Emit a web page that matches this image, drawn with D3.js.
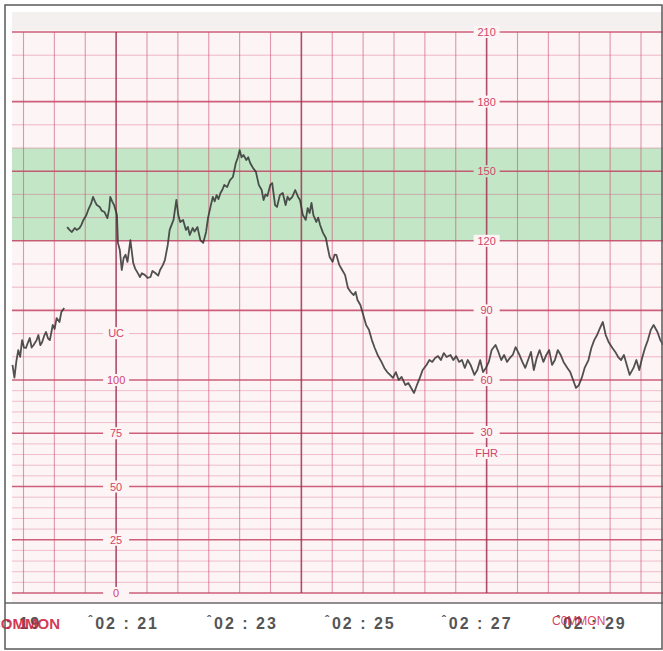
<!DOCTYPE html>
<html>
<head>
<meta charset="utf-8">
<script src="https://cdn.jsdelivr.net/npm/d3@7"></script>
<style>
  body { margin: 0; background: #fff; }
  text { font-family: "Liberation Sans", Arial, sans-serif; }
</style>
</head>
<body>
<div id="chart"></div>
<script>
// FHR trace: seconds after 02:19:00, beats per minute (null = gap in trace)
const fhrTime = [
  36, 38, 40, 42, 44, 46, 48, 50, 52, 54, 56, 58, 61, 63, 65, 67, 69, 71, 73, 75, 78, 80, 82, 85, 87, 90,
  91.5,
  93, 96, 98, 101, 103, 106, 108, 110, 113, 115, 118, 120, 122, 124, 127, 129, 132, 135, 137, 138, 140, 142, 145,
  146, 148, 150, 152, 154, 156, 159, 162, 164, 166, 169, 171, 174, 177, 180, 182, 185, 188, 190, 193, 195, 198,
  200, 204, 207, 209, 211, 214, 217, 219, 221, 224, 226, 229, 232, 235, 238, 240, 243, 245, 247, 249, 251, 253,
  255, 257, 260, 263, 266, 269, 271, 273, 275, 277, 280, 282, 284, 287, 290, 293, 296, 298, 300, 302, 305, 307,
  310, 312, 315, 318, 321, 323, 325, 328, 331, 334, 336, 339, 342, 344, 346, 348, 350, 353, 355, 357, 360, 363,
  365, 367, 370, 372, 374, 377, 380, 383, 386, 389, 392, 394, 396, 399, 402, 405, 408, 411, 414, 417, 421, 424,
  427, 430, 433, 436, 439, 442, 446, 449, 452, 455, 458, 461, 464, 468, 471, 474, 477, 480, 483, 486, 489, 493,
  496, 499, 502, 505, 508, 511, 514, 518, 521, 524, 527, 530, 533, 536, 540, 543, 546, 549, 552, 555, 558, 561,
  565, 568, 571, 574, 577, 580, 583, 586, 590, 593, 596, 599, 602, 605, 608, 611, 615, 618, 621, 624, 627, 630,
  633, 637, 640, 643, 646, 649, 652, 655, 658, 662, 665, 668, 671, 674, 677, 680, 684, 687, 690, 693, 696, 699,
  702, 705, 709, 712, 715
];
const fhrBpm = [
  66.5, 61, 68, 72.9, 70, 77.2, 74, 73.8, 76, 78.1, 74, 75.1, 77, 79.4, 75, 76.4, 79, 80.7, 78, 77.2, 83.7, 82, 86.7, 85, 89.3, 91,
  null,
  125.9, 124.5, 123.8, 125.5, 124.7, 125.5, 127, 129, 131, 133.3, 136, 138.9, 137, 135.4, 134.6, 133, 132.4, 129.8, 134, 138.9, 137, 135.4, 131.1,
  119.1, 116, 107.4, 112.6, 114, 110.9, 120.3, 110.4, 108, 106.6, 104.4, 106, 105.3, 104, 104.4, 107, 106.1, 105, 107.4, 109.6, 111.7, 118.2,
  124.7, 129, 137.6, 131.1, 128.1, 129, 124.7, 126, 122.5, 125.5, 124, 125.9, 120.3, 119.1, 123.8, 129.8, 135.4, 138.9, 137, 139.7, 138, 140.6,
  142, 144.1, 143.2, 146.2, 147.5, 153.5, 155.7, 159.1, 156, 157, 154.8, 156, 153.5, 151.4, 149.7, 144.1, 141.9, 137.6, 140, 139.3, 144.1, 144.9,
  135.4, 134.6, 139.7, 140.6, 135.4, 139, 137.6, 138.9, 141.9, 138.9, 137.6, 131.1, 129, 134.1, 132, 136.3, 131.1, 128.1, 130, 126.8, 123.4, 121.2,
  116.9, 113, 110.9, 114, 113.9, 109.6, 107.4, 105.3, 99.7, 97.9, 96.6, 98, 94.5, 92.3, 88, 83.7, 81.6, 77.2, 73.8, 70.8, 67.8, 65.2,
  63.4, 62.2, 60.9, 63.4, 60, 61.3, 57.1, 58.3, 55.4, 52.5, 57.1, 60.9, 64.3, 66.5, 68.6, 67.8, 69.5, 70.3, 68.6, 71.6, 69.9, 70.8,
  68.6, 70.3, 67.8, 68.6, 65.2, 68.6, 66.5, 62.2, 64.3, 68.6, 63.4, 65.2, 67.8, 72.9, 75.1, 72.1, 68.6, 70.8, 67.8, 69.5, 70.8, 74.2,
  70.8, 67.8, 65.2, 68.6, 72.1, 64.3, 69.5, 72.9, 67.8, 70.8, 72.9, 66.5, 68.6, 72.9, 70.8, 67.8, 65.2, 63.4, 60, 55.4, 57.1, 60.9,
  65.2, 68.6, 73.8, 77.2, 79.4, 82.4, 85, 79.4, 76.4, 73.8, 72.1, 69.9, 68.6, 70.8, 66.5, 62.2, 65.2, 68.6, 64.3, 69.5, 73.8, 77.2,
  81.6, 83.7, 80.7, 77.2, 75.1
];

// printed time marks along the bottom edge
const timeLabels = ["02:19", "02:21", "02:23", "02:25", "02:27", "02:29"];
const timeMarks = [-8, 115, 239, 362, 484, 603];

// scale labels printed on the paper
const fhrTicks = [210, 180, 150, 120, 90, 60, 30];
const ucTicks = [100, 75, 50, 25, 0];
const normalBand = [120, 160];

const W = 663, H = 651;
const paperLeft = 12, paperTop = 12, paperBottom = 603;

const svg = d3.select("#chart")
  .append("svg")
  .attr("width", W)
  .attr("height", H);

// scales
const x = d3.scaleLinear().domain([0, 720]).range([-22, 668]);
const grid = d3.scaleLinear().domain([0, 20]).range([23.5, 641]);
const fhr = d3.scaleLinear().domain([18, 30, 60, 210]).range([453, 432, 380, 32]);
const uc = d3.scaleLinear().domain([0, 100]).range([593, 380]);

// frame + paper
svg.append("rect").attr("width", W).attr("height", H).attr("fill", "#fff");
svg.append("rect")
  .attr("x", paperLeft).attr("y", paperTop)
  .attr("width", W - paperLeft).attr("height", paperBottom - paperTop)
  .attr("fill", "#fdf4f5");
svg.append("rect")
  .attr("x", paperLeft).attr("y", paperTop)
  .attr("width", W - paperLeft).attr("height", fhr(210) - paperTop - 2)
  .attr("fill", "#f5f0f0");

// green normal range
svg.append("rect")
  .attr("x", paperLeft)
  .attr("y", fhr(normalBand[1]))
  .attr("width", W - paperLeft)
  .attr("height", fhr(normalBand[0]) - fhr(normalBand[1]))
  .attr("fill", "#c3e6c7");

const gridG = svg.append("g");

// horizontal lines, FHR part (10 bpm)
d3.range(60, 211, 10).forEach(v => {
  const major = v % 30 === 0;
  gridG.append("line")
    .attr("x1", paperLeft).attr("x2", W)
    .attr("y1", fhr(v)).attr("y2", fhr(v))
    .attr("stroke", major ? "#c0395c" : "#d9587c")
    .attr("stroke-opacity", major ? 0.8 : 0.4)
    .attr("stroke-width", major ? 1.6 : 1);
});

// horizontal lines, UC part (5 units)
d3.range(0, 100, 5).forEach(v => {
  const major = v % 25 === 0;
  gridG.append("line")
    .attr("x1", paperLeft).attr("x2", W)
    .attr("y1", uc(v)).attr("y2", uc(v))
    .attr("stroke", major ? "#c0395c" : "#d9587c")
    .attr("stroke-opacity", major ? 0.8 : 0.35)
    .attr("stroke-width", major ? 1.6 : 1);
});

// vertical lines
d3.range(0, 21).forEach(k => {
  const major = k % 6 === 3;
  gridG.append("line")
    .attr("x1", grid(k)).attr("x2", grid(k))
    .attr("y1", fhr(210)).attr("y2", uc(0))
    .attr("stroke", major ? "#a03050" : "#c84a6c")
    .attr("stroke-opacity", major ? 0.85 : 0.55)
    .attr("stroke-width", major ? 1.6 : 1.1);
});

// scale labels
const labelG = svg.append("g")
  .attr("fill", "#d2456a")
  .attr("font-size", 11)
  .attr("text-anchor", "middle");

const fhrAxisX = grid(15), ucAxisX = grid(3);

function label(cx, cy, txt, bg) {
  labelG.append("rect")
    .attr("x", cx - 13).attr("y", cy - 6)
    .attr("width", 26).attr("height", 12)
    .attr("fill", bg);
  labelG.append("text")
    .attr("x", cx).attr("y", cy + 4)
    .text(txt);
}

fhrTicks.forEach(v => {
  const inBand = v > normalBand[0] && v < normalBand[1];
  label(fhrAxisX, fhr(v), v, inBand ? "#c3e6c7" : "#fdf4f5");
});
label(fhrAxisX, fhr(18), "FHR", "#fdf4f5");

ucTicks.forEach(v => label(ucAxisX, uc(v), v, "#fdf4f5"));
label(ucAxisX, uc(122), "UC", "#fdf4f5");

// FHR trace
const points = fhrTime.map((t, i) => ({ t: t, v: fhrBpm[i] }));

const line = d3.line()
  .defined(d => d.v !== null)
  .x(d => x(d.t))
  .y(d => fhr(d.v));

svg.append("path")
  .datum(points)
  .attr("fill", "none")
  .attr("stroke", "#333")
  .attr("stroke-width", 1.8)
  .attr("stroke-opacity", 0.85)
  .attr("stroke-linejoin", "round")
  .attr("d", line);

// bottom edge of paper
svg.append("line")
  .attr("x1", paperLeft - 7).attr("x2", W)
  .attr("y1", paperBottom).attr("y2", paperBottom)
  .attr("stroke", "#6a6a6a")
  .attr("stroke-width", 1.5);

// time marks
const timeG = svg.append("g")
  .attr("fill", "#555")
  .attr("font-size", 16)
  .attr("font-weight", "bold")
  .attr("letter-spacing", 2);

timeMarks.forEach((t, i) => {
  const tx = timeG.append("text")
    .attr("x", x(t))
    .attr("y", 629);
  tx.append("tspan").attr("font-size", 12).attr("dy", -4).text("ˆ");
  tx.append("tspan").attr("dy", 4).attr("dx", 1)
    .text(timeLabels[i].replace(":", " : "));
});

// red overprints
svg.append("text")
  .attr("x", 60).attr("y", 629)
  .attr("text-anchor", "end")
  .attr("fill", "#d0203e")
  .attr("fill-opacity", 0.9)
  .attr("font-size", 15)
  .attr("font-weight", "bold")
  .text("COMMON");
svg.append("text")
  .attr("x", 552).attr("y", 625)
  .attr("fill", "#d0203e")
  .attr("fill-opacity", 0.85)
  .attr("font-size", 12)
  .text("C0MMON");

// image frame
svg.append("rect")
  .attr("x", 5).attr("y", 5)
  .attr("width", W - 6).attr("height", H - 7)
  .attr("fill", "none")
  .attr("stroke", "#5a5a5a")
  .attr("stroke-width", 1.5);
</script>
</body>
</html>
